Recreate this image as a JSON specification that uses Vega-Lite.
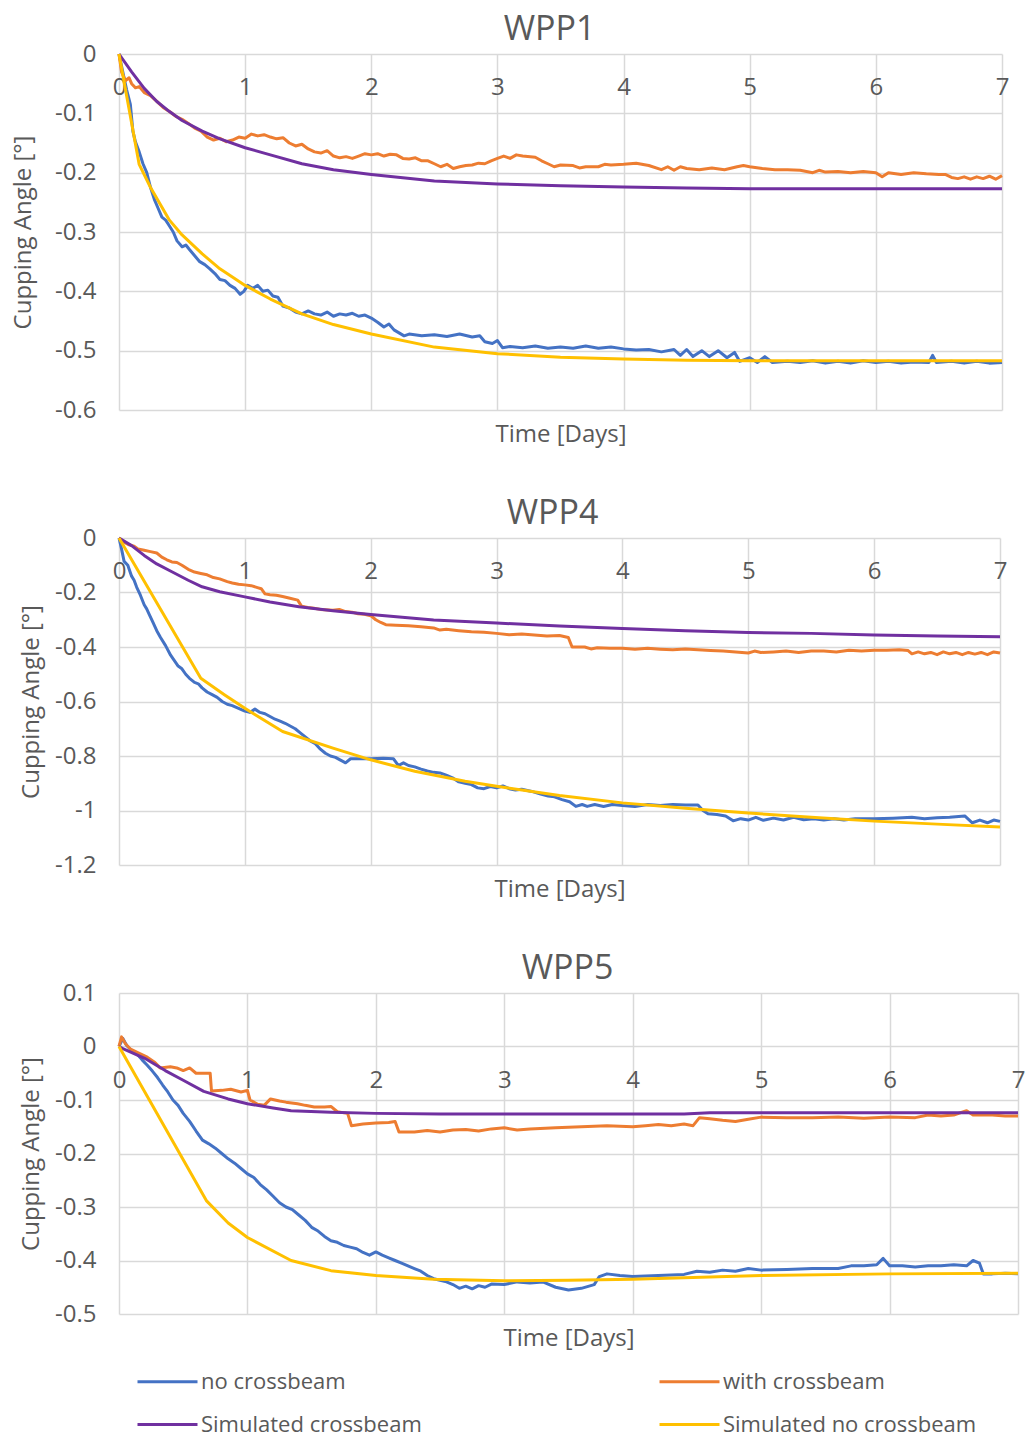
{
"$schema": "https://vega.github.io/schema/vega-lite/v6.json",
"background": "white",
"padding": {"left": 11, "top": 13, "right": 0, "bottom": 0},
"columns": 1,
"align": "none",
"spacing": 51,
"config": {
  "font": "Open Sans",
  "view": {"stroke": null},
  "axis": {"labelFont": "Open Sans", "labelFontSize": 24, "labelColor": "#595959", "titleFont": "Open Sans", "titleFontSize": 24, "titleColor": "#595959", "titleFontWeight": "normal", "gridColor": "#d9d9d9", "gridWidth": 1.5, "domain": false, "ticks": false},
  "title": {"font": "Open Sans", "fontSize": 34, "fontWeight": "normal", "color": "#595959", "anchor": "middle", "frame": "group", "offset": -5},
  "legend": {"orient": "none", "direction": "horizontal", "legendX": 17, "legendY": 1296, "columns": 2, "columnPadding": 231, "rowPadding": -17, "symbolType": "stroke", "symbolSize": 3600, "symbolStrokeWidth": 3, "labelFont": "Open Sans", "labelFontSize": 22, "labelColor": "#595959", "labelOffset": 2, "labelLimit": 400, "padding": 0}
},
"datasets": {"d": [
{"p":"WPP1","s":"no crossbeam","t":0,"v":0},{"p":"WPP1","s":"no crossbeam","t":0.03,"v":-0.03},{"p":"WPP1","s":"no crossbeam","t":0.06,"v":-0.06},{"p":"WPP1","s":"no crossbeam","t":0.09,"v":-0.085},{"p":"WPP1","s":"no crossbeam","t":0.11,"v":-0.13},{"p":"WPP1","s":"no crossbeam","t":0.13,"v":-0.148},{"p":"WPP1","s":"no crossbeam","t":0.16,"v":-0.165},{"p":"WPP1","s":"no crossbeam","t":0.19,"v":-0.185},{"p":"WPP1","s":"no crossbeam","t":0.22,"v":-0.2},{"p":"WPP1","s":"no crossbeam","t":0.25,"v":-0.225},{"p":"WPP1","s":"no crossbeam","t":0.28,"v":-0.245},{"p":"WPP1","s":"no crossbeam","t":0.31,"v":-0.26},{"p":"WPP1","s":"no crossbeam","t":0.34,"v":-0.275},{"p":"WPP1","s":"no crossbeam","t":0.37,"v":-0.28},{"p":"WPP1","s":"no crossbeam","t":0.4,"v":-0.29},{"p":"WPP1","s":"no crossbeam","t":0.43,"v":-0.3},{"p":"WPP1","s":"no crossbeam","t":0.46,"v":-0.315},{"p":"WPP1","s":"no crossbeam","t":0.5,"v":-0.325},{"p":"WPP1","s":"no crossbeam","t":0.53,"v":-0.322},{"p":"WPP1","s":"no crossbeam","t":0.56,"v":-0.33},{"p":"WPP1","s":"no crossbeam","t":0.6,"v":-0.34},{"p":"WPP1","s":"no crossbeam","t":0.64,"v":-0.35},{"p":"WPP1","s":"no crossbeam","t":0.68,"v":-0.355},{"p":"WPP1","s":"no crossbeam","t":0.72,"v":-0.362},{"p":"WPP1","s":"no crossbeam","t":0.76,"v":-0.37},{"p":"WPP1","s":"no crossbeam","t":0.8,"v":-0.38},{"p":"WPP1","s":"no crossbeam","t":0.84,"v":-0.382},{"p":"WPP1","s":"no crossbeam","t":0.88,"v":-0.39},{"p":"WPP1","s":"no crossbeam","t":0.92,"v":-0.395},{"p":"WPP1","s":"no crossbeam","t":0.96,"v":-0.405},{"p":"WPP1","s":"no crossbeam","t":0.99,"v":-0.4},{"p":"WPP1","s":"no crossbeam","t":1.02,"v":-0.39},{"p":"WPP1","s":"no crossbeam","t":1.06,"v":-0.395},{"p":"WPP1","s":"no crossbeam","t":1.1,"v":-0.39},{"p":"WPP1","s":"no crossbeam","t":1.14,"v":-0.4},{"p":"WPP1","s":"no crossbeam","t":1.18,"v":-0.398},{"p":"WPP1","s":"no crossbeam","t":1.22,"v":-0.408},{"p":"WPP1","s":"no crossbeam","t":1.26,"v":-0.41},{"p":"WPP1","s":"no crossbeam","t":1.3,"v":-0.425},{"p":"WPP1","s":"no crossbeam","t":1.35,"v":-0.428},{"p":"WPP1","s":"no crossbeam","t":1.4,"v":-0.435},{"p":"WPP1","s":"no crossbeam","t":1.45,"v":-0.438},{"p":"WPP1","s":"no crossbeam","t":1.5,"v":-0.433},{"p":"WPP1","s":"no crossbeam","t":1.55,"v":-0.438},{"p":"WPP1","s":"no crossbeam","t":1.6,"v":-0.44},{"p":"WPP1","s":"no crossbeam","t":1.65,"v":-0.435},{"p":"WPP1","s":"no crossbeam","t":1.7,"v":-0.442},{"p":"WPP1","s":"no crossbeam","t":1.75,"v":-0.438},{"p":"WPP1","s":"no crossbeam","t":1.8,"v":-0.44},{"p":"WPP1","s":"no crossbeam","t":1.85,"v":-0.437},{"p":"WPP1","s":"no crossbeam","t":1.9,"v":-0.442},{"p":"WPP1","s":"no crossbeam","t":1.95,"v":-0.44},{"p":"WPP1","s":"no crossbeam","t":2.0,"v":-0.445},{"p":"WPP1","s":"no crossbeam","t":2.05,"v":-0.452},{"p":"WPP1","s":"no crossbeam","t":2.1,"v":-0.46},{"p":"WPP1","s":"no crossbeam","t":2.14,"v":-0.455},{"p":"WPP1","s":"no crossbeam","t":2.18,"v":-0.465},{"p":"WPP1","s":"no crossbeam","t":2.22,"v":-0.47},{"p":"WPP1","s":"no crossbeam","t":2.26,"v":-0.475},{"p":"WPP1","s":"no crossbeam","t":2.3,"v":-0.472},{"p":"WPP1","s":"no crossbeam","t":2.4,"v":-0.475},{"p":"WPP1","s":"no crossbeam","t":2.5,"v":-0.473},{"p":"WPP1","s":"no crossbeam","t":2.6,"v":-0.476},{"p":"WPP1","s":"no crossbeam","t":2.7,"v":-0.472},{"p":"WPP1","s":"no crossbeam","t":2.8,"v":-0.477},{"p":"WPP1","s":"no crossbeam","t":2.86,"v":-0.475},{"p":"WPP1","s":"no crossbeam","t":2.9,"v":-0.485},{"p":"WPP1","s":"no crossbeam","t":2.96,"v":-0.488},{"p":"WPP1","s":"no crossbeam","t":3.0,"v":-0.483},{"p":"WPP1","s":"no crossbeam","t":3.04,"v":-0.495},{"p":"WPP1","s":"no crossbeam","t":3.1,"v":-0.493},{"p":"WPP1","s":"no crossbeam","t":3.2,"v":-0.495},{"p":"WPP1","s":"no crossbeam","t":3.3,"v":-0.492},{"p":"WPP1","s":"no crossbeam","t":3.4,"v":-0.496},{"p":"WPP1","s":"no crossbeam","t":3.5,"v":-0.494},{"p":"WPP1","s":"no crossbeam","t":3.6,"v":-0.496},{"p":"WPP1","s":"no crossbeam","t":3.7,"v":-0.492},{"p":"WPP1","s":"no crossbeam","t":3.8,"v":-0.496},{"p":"WPP1","s":"no crossbeam","t":3.9,"v":-0.494},{"p":"WPP1","s":"no crossbeam","t":4.0,"v":-0.497},{"p":"WPP1","s":"no crossbeam","t":4.1,"v":-0.499},{"p":"WPP1","s":"no crossbeam","t":4.2,"v":-0.498},{"p":"WPP1","s":"no crossbeam","t":4.3,"v":-0.502},{"p":"WPP1","s":"no crossbeam","t":4.4,"v":-0.498},{"p":"WPP1","s":"no crossbeam","t":4.45,"v":-0.508},{"p":"WPP1","s":"no crossbeam","t":4.5,"v":-0.498},{"p":"WPP1","s":"no crossbeam","t":4.55,"v":-0.51},{"p":"WPP1","s":"no crossbeam","t":4.62,"v":-0.5},{"p":"WPP1","s":"no crossbeam","t":4.68,"v":-0.51},{"p":"WPP1","s":"no crossbeam","t":4.75,"v":-0.5},{"p":"WPP1","s":"no crossbeam","t":4.82,"v":-0.512},{"p":"WPP1","s":"no crossbeam","t":4.88,"v":-0.503},{"p":"WPP1","s":"no crossbeam","t":4.92,"v":-0.518},{"p":"WPP1","s":"no crossbeam","t":5.0,"v":-0.512},{"p":"WPP1","s":"no crossbeam","t":5.06,"v":-0.52},{"p":"WPP1","s":"no crossbeam","t":5.12,"v":-0.51},{"p":"WPP1","s":"no crossbeam","t":5.18,"v":-0.52},{"p":"WPP1","s":"no crossbeam","t":5.3,"v":-0.518},{"p":"WPP1","s":"no crossbeam","t":5.4,"v":-0.52},{"p":"WPP1","s":"no crossbeam","t":5.5,"v":-0.517},{"p":"WPP1","s":"no crossbeam","t":5.6,"v":-0.521},{"p":"WPP1","s":"no crossbeam","t":5.7,"v":-0.518},{"p":"WPP1","s":"no crossbeam","t":5.8,"v":-0.521},{"p":"WPP1","s":"no crossbeam","t":5.9,"v":-0.517},{"p":"WPP1","s":"no crossbeam","t":6.0,"v":-0.52},{"p":"WPP1","s":"no crossbeam","t":6.1,"v":-0.518},{"p":"WPP1","s":"no crossbeam","t":6.2,"v":-0.521},{"p":"WPP1","s":"no crossbeam","t":6.3,"v":-0.519},{"p":"WPP1","s":"no crossbeam","t":6.42,"v":-0.52},{"p":"WPP1","s":"no crossbeam","t":6.45,"v":-0.508},{"p":"WPP1","s":"no crossbeam","t":6.48,"v":-0.52},{"p":"WPP1","s":"no crossbeam","t":6.6,"v":-0.518},{"p":"WPP1","s":"no crossbeam","t":6.7,"v":-0.521},{"p":"WPP1","s":"no crossbeam","t":6.8,"v":-0.518},{"p":"WPP1","s":"no crossbeam","t":6.9,"v":-0.521},{"p":"WPP1","s":"no crossbeam","t":7.0,"v":-0.52},
{"p":"WPP1","s":"with crossbeam","t":0,"v":0},{"p":"WPP1","s":"with crossbeam","t":0.02,"v":-0.03},{"p":"WPP1","s":"with crossbeam","t":0.05,"v":-0.045},{"p":"WPP1","s":"with crossbeam","t":0.08,"v":-0.04},{"p":"WPP1","s":"with crossbeam","t":0.1,"v":-0.05},{"p":"WPP1","s":"with crossbeam","t":0.13,"v":-0.057},{"p":"WPP1","s":"with crossbeam","t":0.16,"v":-0.055},{"p":"WPP1","s":"with crossbeam","t":0.2,"v":-0.065},{"p":"WPP1","s":"with crossbeam","t":0.25,"v":-0.07},{"p":"WPP1","s":"with crossbeam","t":0.3,"v":-0.08},{"p":"WPP1","s":"with crossbeam","t":0.35,"v":-0.09},{"p":"WPP1","s":"with crossbeam","t":0.4,"v":-0.097},{"p":"WPP1","s":"with crossbeam","t":0.45,"v":-0.105},{"p":"WPP1","s":"with crossbeam","t":0.5,"v":-0.11},{"p":"WPP1","s":"with crossbeam","t":0.55,"v":-0.117},{"p":"WPP1","s":"with crossbeam","t":0.6,"v":-0.125},{"p":"WPP1","s":"with crossbeam","t":0.65,"v":-0.13},{"p":"WPP1","s":"with crossbeam","t":0.7,"v":-0.14},{"p":"WPP1","s":"with crossbeam","t":0.75,"v":-0.145},{"p":"WPP1","s":"with crossbeam","t":0.8,"v":-0.142},{"p":"WPP1","s":"with crossbeam","t":0.85,"v":-0.148},{"p":"WPP1","s":"with crossbeam","t":0.9,"v":-0.145},{"p":"WPP1","s":"with crossbeam","t":0.95,"v":-0.14},{"p":"WPP1","s":"with crossbeam","t":1.0,"v":-0.142},{"p":"WPP1","s":"with crossbeam","t":1.05,"v":-0.135},{"p":"WPP1","s":"with crossbeam","t":1.1,"v":-0.138},{"p":"WPP1","s":"with crossbeam","t":1.15,"v":-0.136},{"p":"WPP1","s":"with crossbeam","t":1.2,"v":-0.14},{"p":"WPP1","s":"with crossbeam","t":1.25,"v":-0.143},{"p":"WPP1","s":"with crossbeam","t":1.3,"v":-0.141},{"p":"WPP1","s":"with crossbeam","t":1.35,"v":-0.15},{"p":"WPP1","s":"with crossbeam","t":1.4,"v":-0.155},{"p":"WPP1","s":"with crossbeam","t":1.45,"v":-0.152},{"p":"WPP1","s":"with crossbeam","t":1.5,"v":-0.16},{"p":"WPP1","s":"with crossbeam","t":1.55,"v":-0.165},{"p":"WPP1","s":"with crossbeam","t":1.6,"v":-0.167},{"p":"WPP1","s":"with crossbeam","t":1.65,"v":-0.163},{"p":"WPP1","s":"with crossbeam","t":1.7,"v":-0.172},{"p":"WPP1","s":"with crossbeam","t":1.75,"v":-0.175},{"p":"WPP1","s":"with crossbeam","t":1.8,"v":-0.173},{"p":"WPP1","s":"with crossbeam","t":1.85,"v":-0.176},{"p":"WPP1","s":"with crossbeam","t":1.9,"v":-0.172},{"p":"WPP1","s":"with crossbeam","t":1.95,"v":-0.168},{"p":"WPP1","s":"with crossbeam","t":2.0,"v":-0.17},{"p":"WPP1","s":"with crossbeam","t":2.05,"v":-0.168},{"p":"WPP1","s":"with crossbeam","t":2.1,"v":-0.172},{"p":"WPP1","s":"with crossbeam","t":2.15,"v":-0.169},{"p":"WPP1","s":"with crossbeam","t":2.2,"v":-0.17},{"p":"WPP1","s":"with crossbeam","t":2.25,"v":-0.176},{"p":"WPP1","s":"with crossbeam","t":2.3,"v":-0.177},{"p":"WPP1","s":"with crossbeam","t":2.35,"v":-0.175},{"p":"WPP1","s":"with crossbeam","t":2.4,"v":-0.18},{"p":"WPP1","s":"with crossbeam","t":2.45,"v":-0.18},{"p":"WPP1","s":"with crossbeam","t":2.5,"v":-0.185},{"p":"WPP1","s":"with crossbeam","t":2.55,"v":-0.19},{"p":"WPP1","s":"with crossbeam","t":2.6,"v":-0.186},{"p":"WPP1","s":"with crossbeam","t":2.65,"v":-0.193},{"p":"WPP1","s":"with crossbeam","t":2.7,"v":-0.19},{"p":"WPP1","s":"with crossbeam","t":2.75,"v":-0.188},{"p":"WPP1","s":"with crossbeam","t":2.8,"v":-0.187},{"p":"WPP1","s":"with crossbeam","t":2.85,"v":-0.184},{"p":"WPP1","s":"with crossbeam","t":2.9,"v":-0.185},{"p":"WPP1","s":"with crossbeam","t":2.95,"v":-0.18},{"p":"WPP1","s":"with crossbeam","t":3.0,"v":-0.176},{"p":"WPP1","s":"with crossbeam","t":3.05,"v":-0.172},{"p":"WPP1","s":"with crossbeam","t":3.1,"v":-0.176},{"p":"WPP1","s":"with crossbeam","t":3.15,"v":-0.17},{"p":"WPP1","s":"with crossbeam","t":3.2,"v":-0.172},{"p":"WPP1","s":"with crossbeam","t":3.3,"v":-0.174},{"p":"WPP1","s":"with crossbeam","t":3.35,"v":-0.18},{"p":"WPP1","s":"with crossbeam","t":3.4,"v":-0.185},{"p":"WPP1","s":"with crossbeam","t":3.45,"v":-0.19},{"p":"WPP1","s":"with crossbeam","t":3.5,"v":-0.187},{"p":"WPP1","s":"with crossbeam","t":3.6,"v":-0.188},{"p":"WPP1","s":"with crossbeam","t":3.65,"v":-0.192},{"p":"WPP1","s":"with crossbeam","t":3.7,"v":-0.19},{"p":"WPP1","s":"with crossbeam","t":3.8,"v":-0.19},{"p":"WPP1","s":"with crossbeam","t":3.85,"v":-0.186},{"p":"WPP1","s":"with crossbeam","t":3.9,"v":-0.187},{"p":"WPP1","s":"with crossbeam","t":4.0,"v":-0.186},{"p":"WPP1","s":"with crossbeam","t":4.1,"v":-0.184},{"p":"WPP1","s":"with crossbeam","t":4.2,"v":-0.188},{"p":"WPP1","s":"with crossbeam","t":4.3,"v":-0.195},{"p":"WPP1","s":"with crossbeam","t":4.35,"v":-0.19},{"p":"WPP1","s":"with crossbeam","t":4.4,"v":-0.196},{"p":"WPP1","s":"with crossbeam","t":4.45,"v":-0.19},{"p":"WPP1","s":"with crossbeam","t":4.5,"v":-0.193},{"p":"WPP1","s":"with crossbeam","t":4.6,"v":-0.195},{"p":"WPP1","s":"with crossbeam","t":4.7,"v":-0.192},{"p":"WPP1","s":"with crossbeam","t":4.8,"v":-0.195},{"p":"WPP1","s":"with crossbeam","t":4.9,"v":-0.19},{"p":"WPP1","s":"with crossbeam","t":4.95,"v":-0.188},{"p":"WPP1","s":"with crossbeam","t":5.0,"v":-0.19},{"p":"WPP1","s":"with crossbeam","t":5.1,"v":-0.193},{"p":"WPP1","s":"with crossbeam","t":5.2,"v":-0.195},{"p":"WPP1","s":"with crossbeam","t":5.3,"v":-0.195},{"p":"WPP1","s":"with crossbeam","t":5.4,"v":-0.196},{"p":"WPP1","s":"with crossbeam","t":5.5,"v":-0.2},{"p":"WPP1","s":"with crossbeam","t":5.55,"v":-0.196},{"p":"WPP1","s":"with crossbeam","t":5.6,"v":-0.199},{"p":"WPP1","s":"with crossbeam","t":5.7,"v":-0.198},{"p":"WPP1","s":"with crossbeam","t":5.8,"v":-0.2},{"p":"WPP1","s":"with crossbeam","t":5.9,"v":-0.198},{"p":"WPP1","s":"with crossbeam","t":6.0,"v":-0.2},{"p":"WPP1","s":"with crossbeam","t":6.05,"v":-0.207},{"p":"WPP1","s":"with crossbeam","t":6.1,"v":-0.2},{"p":"WPP1","s":"with crossbeam","t":6.2,"v":-0.203},{"p":"WPP1","s":"with crossbeam","t":6.3,"v":-0.2},{"p":"WPP1","s":"with crossbeam","t":6.4,"v":-0.202},{"p":"WPP1","s":"with crossbeam","t":6.5,"v":-0.203},{"p":"WPP1","s":"with crossbeam","t":6.55,"v":-0.203},{"p":"WPP1","s":"with crossbeam","t":6.6,"v":-0.208},{"p":"WPP1","s":"with crossbeam","t":6.65,"v":-0.21},{"p":"WPP1","s":"with crossbeam","t":6.7,"v":-0.207},{"p":"WPP1","s":"with crossbeam","t":6.75,"v":-0.211},{"p":"WPP1","s":"with crossbeam","t":6.8,"v":-0.207},{"p":"WPP1","s":"with crossbeam","t":6.85,"v":-0.21},{"p":"WPP1","s":"with crossbeam","t":6.9,"v":-0.206},{"p":"WPP1","s":"with crossbeam","t":6.95,"v":-0.211},{"p":"WPP1","s":"with crossbeam","t":7.0,"v":-0.205},
{"p":"WPP1","s":"Simulated crossbeam","t":0,"v":0},{"p":"WPP1","s":"Simulated crossbeam","t":0.1,"v":-0.03},{"p":"WPP1","s":"Simulated crossbeam","t":0.2,"v":-0.058},{"p":"WPP1","s":"Simulated crossbeam","t":0.3,"v":-0.08},{"p":"WPP1","s":"Simulated crossbeam","t":0.4,"v":-0.097},{"p":"WPP1","s":"Simulated crossbeam","t":0.5,"v":-0.112},{"p":"WPP1","s":"Simulated crossbeam","t":0.66,"v":-0.13},{"p":"WPP1","s":"Simulated crossbeam","t":0.8,"v":-0.143},{"p":"WPP1","s":"Simulated crossbeam","t":1.0,"v":-0.158},{"p":"WPP1","s":"Simulated crossbeam","t":1.2,"v":-0.17},{"p":"WPP1","s":"Simulated crossbeam","t":1.45,"v":-0.185},{"p":"WPP1","s":"Simulated crossbeam","t":1.7,"v":-0.195},{"p":"WPP1","s":"Simulated crossbeam","t":2.0,"v":-0.203},{"p":"WPP1","s":"Simulated crossbeam","t":2.5,"v":-0.214},{"p":"WPP1","s":"Simulated crossbeam","t":3.0,"v":-0.219},{"p":"WPP1","s":"Simulated crossbeam","t":3.5,"v":-0.222},{"p":"WPP1","s":"Simulated crossbeam","t":4.0,"v":-0.224},{"p":"WPP1","s":"Simulated crossbeam","t":4.5,"v":-0.226},{"p":"WPP1","s":"Simulated crossbeam","t":5.0,"v":-0.227},{"p":"WPP1","s":"Simulated crossbeam","t":6.0,"v":-0.227},{"p":"WPP1","s":"Simulated crossbeam","t":7.0,"v":-0.227},
{"p":"WPP1","s":"Simulated no crossbeam","t":0,"v":0},{"p":"WPP1","s":"Simulated no crossbeam","t":0.16,"v":-0.186},{"p":"WPP1","s":"Simulated no crossbeam","t":0.25,"v":-0.225},{"p":"WPP1","s":"Simulated no crossbeam","t":0.4,"v":-0.28},{"p":"WPP1","s":"Simulated no crossbeam","t":0.5,"v":-0.305},{"p":"WPP1","s":"Simulated no crossbeam","t":0.66,"v":-0.337},{"p":"WPP1","s":"Simulated no crossbeam","t":0.8,"v":-0.362},{"p":"WPP1","s":"Simulated no crossbeam","t":1.0,"v":-0.39},{"p":"WPP1","s":"Simulated no crossbeam","t":1.2,"v":-0.413},{"p":"WPP1","s":"Simulated no crossbeam","t":1.45,"v":-0.438},{"p":"WPP1","s":"Simulated no crossbeam","t":1.7,"v":-0.456},{"p":"WPP1","s":"Simulated no crossbeam","t":2.0,"v":-0.472},{"p":"WPP1","s":"Simulated no crossbeam","t":2.5,"v":-0.494},{"p":"WPP1","s":"Simulated no crossbeam","t":3.0,"v":-0.505},{"p":"WPP1","s":"Simulated no crossbeam","t":3.5,"v":-0.511},{"p":"WPP1","s":"Simulated no crossbeam","t":4.0,"v":-0.514},{"p":"WPP1","s":"Simulated no crossbeam","t":4.5,"v":-0.516},{"p":"WPP1","s":"Simulated no crossbeam","t":5.0,"v":-0.517},{"p":"WPP1","s":"Simulated no crossbeam","t":6.0,"v":-0.517},{"p":"WPP1","s":"Simulated no crossbeam","t":7.0,"v":-0.517},
{"p":"WPP4","s":"no crossbeam","t":0,"v":0},{"p":"WPP4","s":"no crossbeam","t":0.02,"v":-0.04},{"p":"WPP4","s":"no crossbeam","t":0.04,"v":-0.085},{"p":"WPP4","s":"no crossbeam","t":0.07,"v":-0.1},{"p":"WPP4","s":"no crossbeam","t":0.1,"v":-0.14},{"p":"WPP4","s":"no crossbeam","t":0.12,"v":-0.155},{"p":"WPP4","s":"no crossbeam","t":0.14,"v":-0.18},{"p":"WPP4","s":"no crossbeam","t":0.17,"v":-0.21},{"p":"WPP4","s":"no crossbeam","t":0.2,"v":-0.245},{"p":"WPP4","s":"no crossbeam","t":0.22,"v":-0.26},{"p":"WPP4","s":"no crossbeam","t":0.24,"v":-0.28},{"p":"WPP4","s":"no crossbeam","t":0.27,"v":-0.31},{"p":"WPP4","s":"no crossbeam","t":0.3,"v":-0.34},{"p":"WPP4","s":"no crossbeam","t":0.33,"v":-0.365},{"p":"WPP4","s":"no crossbeam","t":0.37,"v":-0.395},{"p":"WPP4","s":"no crossbeam","t":0.41,"v":-0.43},{"p":"WPP4","s":"no crossbeam","t":0.44,"v":-0.45},{"p":"WPP4","s":"no crossbeam","t":0.47,"v":-0.47},{"p":"WPP4","s":"no crossbeam","t":0.5,"v":-0.48},{"p":"WPP4","s":"no crossbeam","t":0.53,"v":-0.5},{"p":"WPP4","s":"no crossbeam","t":0.56,"v":-0.515},{"p":"WPP4","s":"no crossbeam","t":0.6,"v":-0.53},{"p":"WPP4","s":"no crossbeam","t":0.63,"v":-0.535},{"p":"WPP4","s":"no crossbeam","t":0.66,"v":-0.55},{"p":"WPP4","s":"no crossbeam","t":0.7,"v":-0.565},{"p":"WPP4","s":"no crossbeam","t":0.74,"v":-0.575},{"p":"WPP4","s":"no crossbeam","t":0.78,"v":-0.585},{"p":"WPP4","s":"no crossbeam","t":0.82,"v":-0.6},{"p":"WPP4","s":"no crossbeam","t":0.86,"v":-0.61},{"p":"WPP4","s":"no crossbeam","t":0.9,"v":-0.615},{"p":"WPP4","s":"no crossbeam","t":0.95,"v":-0.625},{"p":"WPP4","s":"no crossbeam","t":1.0,"v":-0.635},{"p":"WPP4","s":"no crossbeam","t":1.04,"v":-0.64},{"p":"WPP4","s":"no crossbeam","t":1.08,"v":-0.628},{"p":"WPP4","s":"no crossbeam","t":1.12,"v":-0.64},{"p":"WPP4","s":"no crossbeam","t":1.16,"v":-0.645},{"p":"WPP4","s":"no crossbeam","t":1.2,"v":-0.655},{"p":"WPP4","s":"no crossbeam","t":1.24,"v":-0.665},{"p":"WPP4","s":"no crossbeam","t":1.28,"v":-0.672},{"p":"WPP4","s":"no crossbeam","t":1.32,"v":-0.68},{"p":"WPP4","s":"no crossbeam","t":1.36,"v":-0.69},{"p":"WPP4","s":"no crossbeam","t":1.4,"v":-0.7},{"p":"WPP4","s":"no crossbeam","t":1.44,"v":-0.715},{"p":"WPP4","s":"no crossbeam","t":1.48,"v":-0.73},{"p":"WPP4","s":"no crossbeam","t":1.52,"v":-0.745},{"p":"WPP4","s":"no crossbeam","t":1.56,"v":-0.755},{"p":"WPP4","s":"no crossbeam","t":1.6,"v":-0.775},{"p":"WPP4","s":"no crossbeam","t":1.64,"v":-0.79},{"p":"WPP4","s":"no crossbeam","t":1.68,"v":-0.8},{"p":"WPP4","s":"no crossbeam","t":1.72,"v":-0.805},{"p":"WPP4","s":"no crossbeam","t":1.76,"v":-0.815},{"p":"WPP4","s":"no crossbeam","t":1.8,"v":-0.825},{"p":"WPP4","s":"no crossbeam","t":1.84,"v":-0.81},{"p":"WPP4","s":"no crossbeam","t":1.9,"v":-0.81},{"p":"WPP4","s":"no crossbeam","t":2.0,"v":-0.81},{"p":"WPP4","s":"no crossbeam","t":2.1,"v":-0.808},{"p":"WPP4","s":"no crossbeam","t":2.18,"v":-0.81},{"p":"WPP4","s":"no crossbeam","t":2.22,"v":-0.835},{"p":"WPP4","s":"no crossbeam","t":2.26,"v":-0.825},{"p":"WPP4","s":"no crossbeam","t":2.3,"v":-0.835},{"p":"WPP4","s":"no crossbeam","t":2.35,"v":-0.84},{"p":"WPP4","s":"no crossbeam","t":2.4,"v":-0.848},{"p":"WPP4","s":"no crossbeam","t":2.45,"v":-0.855},{"p":"WPP4","s":"no crossbeam","t":2.5,"v":-0.86},{"p":"WPP4","s":"no crossbeam","t":2.55,"v":-0.862},{"p":"WPP4","s":"no crossbeam","t":2.6,"v":-0.87},{"p":"WPP4","s":"no crossbeam","t":2.65,"v":-0.88},{"p":"WPP4","s":"no crossbeam","t":2.7,"v":-0.895},{"p":"WPP4","s":"no crossbeam","t":2.75,"v":-0.9},{"p":"WPP4","s":"no crossbeam","t":2.8,"v":-0.905},{"p":"WPP4","s":"no crossbeam","t":2.85,"v":-0.917},{"p":"WPP4","s":"no crossbeam","t":2.9,"v":-0.92},{"p":"WPP4","s":"no crossbeam","t":2.95,"v":-0.912},{"p":"WPP4","s":"no crossbeam","t":3.0,"v":-0.917},{"p":"WPP4","s":"no crossbeam","t":3.05,"v":-0.91},{"p":"WPP4","s":"no crossbeam","t":3.1,"v":-0.92},{"p":"WPP4","s":"no crossbeam","t":3.15,"v":-0.925},{"p":"WPP4","s":"no crossbeam","t":3.2,"v":-0.922},{"p":"WPP4","s":"no crossbeam","t":3.28,"v":-0.93},{"p":"WPP4","s":"no crossbeam","t":3.35,"v":-0.94},{"p":"WPP4","s":"no crossbeam","t":3.41,"v":-0.947},{"p":"WPP4","s":"no crossbeam","t":3.46,"v":-0.95},{"p":"WPP4","s":"no crossbeam","t":3.52,"v":-0.96},{"p":"WPP4","s":"no crossbeam","t":3.58,"v":-0.968},{"p":"WPP4","s":"no crossbeam","t":3.63,"v":-0.985},{"p":"WPP4","s":"no crossbeam","t":3.68,"v":-0.978},{"p":"WPP4","s":"no crossbeam","t":3.72,"v":-0.985},{"p":"WPP4","s":"no crossbeam","t":3.78,"v":-0.978},{"p":"WPP4","s":"no crossbeam","t":3.85,"v":-0.985},{"p":"WPP4","s":"no crossbeam","t":3.92,"v":-0.978},{"p":"WPP4","s":"no crossbeam","t":4.0,"v":-0.982},{"p":"WPP4","s":"no crossbeam","t":4.1,"v":-0.985},{"p":"WPP4","s":"no crossbeam","t":4.2,"v":-0.978},{"p":"WPP4","s":"no crossbeam","t":4.3,"v":-0.982},{"p":"WPP4","s":"no crossbeam","t":4.4,"v":-0.978},{"p":"WPP4","s":"no crossbeam","t":4.5,"v":-0.98},{"p":"WPP4","s":"no crossbeam","t":4.6,"v":-0.98},{"p":"WPP4","s":"no crossbeam","t":4.64,"v":-1.0},{"p":"WPP4","s":"no crossbeam","t":4.68,"v":-1.012},{"p":"WPP4","s":"no crossbeam","t":4.75,"v":-1.015},{"p":"WPP4","s":"no crossbeam","t":4.82,"v":-1.02},{"p":"WPP4","s":"no crossbeam","t":4.88,"v":-1.038},{"p":"WPP4","s":"no crossbeam","t":4.94,"v":-1.03},{"p":"WPP4","s":"no crossbeam","t":5.0,"v":-1.035},{"p":"WPP4","s":"no crossbeam","t":5.06,"v":-1.025},{"p":"WPP4","s":"no crossbeam","t":5.12,"v":-1.036},{"p":"WPP4","s":"no crossbeam","t":5.2,"v":-1.028},{"p":"WPP4","s":"no crossbeam","t":5.28,"v":-1.035},{"p":"WPP4","s":"no crossbeam","t":5.36,"v":-1.025},{"p":"WPP4","s":"no crossbeam","t":5.44,"v":-1.034},{"p":"WPP4","s":"no crossbeam","t":5.52,"v":-1.03},{"p":"WPP4","s":"no crossbeam","t":5.6,"v":-1.035},{"p":"WPP4","s":"no crossbeam","t":5.68,"v":-1.03},{"p":"WPP4","s":"no crossbeam","t":5.76,"v":-1.035},{"p":"WPP4","s":"no crossbeam","t":5.85,"v":-1.03},{"p":"WPP4","s":"no crossbeam","t":6.0,"v":-1.03},{"p":"WPP4","s":"no crossbeam","t":6.15,"v":-1.028},{"p":"WPP4","s":"no crossbeam","t":6.3,"v":-1.025},{"p":"WPP4","s":"no crossbeam","t":6.4,"v":-1.03},{"p":"WPP4","s":"no crossbeam","t":6.5,"v":-1.027},{"p":"WPP4","s":"no crossbeam","t":6.6,"v":-1.025},{"p":"WPP4","s":"no crossbeam","t":6.72,"v":-1.02},{"p":"WPP4","s":"no crossbeam","t":6.78,"v":-1.045},{"p":"WPP4","s":"no crossbeam","t":6.84,"v":-1.035},{"p":"WPP4","s":"no crossbeam","t":6.9,"v":-1.045},{"p":"WPP4","s":"no crossbeam","t":6.95,"v":-1.035},{"p":"WPP4","s":"no crossbeam","t":7.0,"v":-1.04},
{"p":"WPP4","s":"with crossbeam","t":0,"v":0},{"p":"WPP4","s":"with crossbeam","t":0.04,"v":-0.015},{"p":"WPP4","s":"with crossbeam","t":0.08,"v":-0.025},{"p":"WPP4","s":"with crossbeam","t":0.12,"v":-0.03},{"p":"WPP4","s":"with crossbeam","t":0.15,"v":-0.04},{"p":"WPP4","s":"with crossbeam","t":0.2,"v":-0.045},{"p":"WPP4","s":"with crossbeam","t":0.25,"v":-0.05},{"p":"WPP4","s":"with crossbeam","t":0.3,"v":-0.055},{"p":"WPP4","s":"with crossbeam","t":0.34,"v":-0.07},{"p":"WPP4","s":"with crossbeam","t":0.38,"v":-0.08},{"p":"WPP4","s":"with crossbeam","t":0.42,"v":-0.088},{"p":"WPP4","s":"with crossbeam","t":0.46,"v":-0.09},{"p":"WPP4","s":"with crossbeam","t":0.5,"v":-0.1},{"p":"WPP4","s":"with crossbeam","t":0.55,"v":-0.115},{"p":"WPP4","s":"with crossbeam","t":0.6,"v":-0.125},{"p":"WPP4","s":"with crossbeam","t":0.65,"v":-0.13},{"p":"WPP4","s":"with crossbeam","t":0.7,"v":-0.135},{"p":"WPP4","s":"with crossbeam","t":0.75,"v":-0.145},{"p":"WPP4","s":"with crossbeam","t":0.8,"v":-0.15},{"p":"WPP4","s":"with crossbeam","t":0.86,"v":-0.16},{"p":"WPP4","s":"with crossbeam","t":0.9,"v":-0.165},{"p":"WPP4","s":"with crossbeam","t":0.95,"v":-0.17},{"p":"WPP4","s":"with crossbeam","t":1.0,"v":-0.172},{"p":"WPP4","s":"with crossbeam","t":1.05,"v":-0.175},{"p":"WPP4","s":"with crossbeam","t":1.1,"v":-0.182},{"p":"WPP4","s":"with crossbeam","t":1.13,"v":-0.186},{"p":"WPP4","s":"with crossbeam","t":1.16,"v":-0.205},{"p":"WPP4","s":"with crossbeam","t":1.2,"v":-0.208},{"p":"WPP4","s":"with crossbeam","t":1.25,"v":-0.21},{"p":"WPP4","s":"with crossbeam","t":1.3,"v":-0.215},{"p":"WPP4","s":"with crossbeam","t":1.35,"v":-0.22},{"p":"WPP4","s":"with crossbeam","t":1.42,"v":-0.228},{"p":"WPP4","s":"with crossbeam","t":1.45,"v":-0.25},{"p":"WPP4","s":"with crossbeam","t":1.5,"v":-0.255},{"p":"WPP4","s":"with crossbeam","t":1.55,"v":-0.258},{"p":"WPP4","s":"with crossbeam","t":1.6,"v":-0.262},{"p":"WPP4","s":"with crossbeam","t":1.7,"v":-0.265},{"p":"WPP4","s":"with crossbeam","t":1.75,"v":-0.262},{"p":"WPP4","s":"with crossbeam","t":1.8,"v":-0.27},{"p":"WPP4","s":"with crossbeam","t":1.85,"v":-0.272},{"p":"WPP4","s":"with crossbeam","t":1.9,"v":-0.278},{"p":"WPP4","s":"with crossbeam","t":1.95,"v":-0.28},{"p":"WPP4","s":"with crossbeam","t":2.0,"v":-0.285},{"p":"WPP4","s":"with crossbeam","t":2.04,"v":-0.3},{"p":"WPP4","s":"with crossbeam","t":2.08,"v":-0.31},{"p":"WPP4","s":"with crossbeam","t":2.12,"v":-0.318},{"p":"WPP4","s":"with crossbeam","t":2.2,"v":-0.32},{"p":"WPP4","s":"with crossbeam","t":2.3,"v":-0.322},{"p":"WPP4","s":"with crossbeam","t":2.4,"v":-0.326},{"p":"WPP4","s":"with crossbeam","t":2.5,"v":-0.33},{"p":"WPP4","s":"with crossbeam","t":2.55,"v":-0.338},{"p":"WPP4","s":"with crossbeam","t":2.6,"v":-0.335},{"p":"WPP4","s":"with crossbeam","t":2.7,"v":-0.34},{"p":"WPP4","s":"with crossbeam","t":2.8,"v":-0.344},{"p":"WPP4","s":"with crossbeam","t":2.9,"v":-0.346},{"p":"WPP4","s":"with crossbeam","t":3.0,"v":-0.35},{"p":"WPP4","s":"with crossbeam","t":3.1,"v":-0.355},{"p":"WPP4","s":"with crossbeam","t":3.2,"v":-0.352},{"p":"WPP4","s":"with crossbeam","t":3.3,"v":-0.356},{"p":"WPP4","s":"with crossbeam","t":3.4,"v":-0.36},{"p":"WPP4","s":"with crossbeam","t":3.5,"v":-0.358},{"p":"WPP4","s":"with crossbeam","t":3.57,"v":-0.365},{"p":"WPP4","s":"with crossbeam","t":3.6,"v":-0.4},{"p":"WPP4","s":"with crossbeam","t":3.7,"v":-0.4},{"p":"WPP4","s":"with crossbeam","t":3.75,"v":-0.407},{"p":"WPP4","s":"with crossbeam","t":3.8,"v":-0.403},{"p":"WPP4","s":"with crossbeam","t":3.9,"v":-0.405},{"p":"WPP4","s":"with crossbeam","t":4.0,"v":-0.405},{"p":"WPP4","s":"with crossbeam","t":4.1,"v":-0.408},{"p":"WPP4","s":"with crossbeam","t":4.2,"v":-0.405},{"p":"WPP4","s":"with crossbeam","t":4.3,"v":-0.408},{"p":"WPP4","s":"with crossbeam","t":4.4,"v":-0.41},{"p":"WPP4","s":"with crossbeam","t":4.5,"v":-0.407},{"p":"WPP4","s":"with crossbeam","t":4.6,"v":-0.41},{"p":"WPP4","s":"with crossbeam","t":4.7,"v":-0.413},{"p":"WPP4","s":"with crossbeam","t":4.8,"v":-0.415},{"p":"WPP4","s":"with crossbeam","t":4.9,"v":-0.418},{"p":"WPP4","s":"with crossbeam","t":5.0,"v":-0.422},{"p":"WPP4","s":"with crossbeam","t":5.05,"v":-0.415},{"p":"WPP4","s":"with crossbeam","t":5.1,"v":-0.42},{"p":"WPP4","s":"with crossbeam","t":5.2,"v":-0.418},{"p":"WPP4","s":"with crossbeam","t":5.3,"v":-0.415},{"p":"WPP4","s":"with crossbeam","t":5.4,"v":-0.42},{"p":"WPP4","s":"with crossbeam","t":5.5,"v":-0.415},{"p":"WPP4","s":"with crossbeam","t":5.6,"v":-0.415},{"p":"WPP4","s":"with crossbeam","t":5.7,"v":-0.418},{"p":"WPP4","s":"with crossbeam","t":5.8,"v":-0.412},{"p":"WPP4","s":"with crossbeam","t":5.9,"v":-0.415},{"p":"WPP4","s":"with crossbeam","t":6.0,"v":-0.412},{"p":"WPP4","s":"with crossbeam","t":6.1,"v":-0.412},{"p":"WPP4","s":"with crossbeam","t":6.2,"v":-0.41},{"p":"WPP4","s":"with crossbeam","t":6.27,"v":-0.413},{"p":"WPP4","s":"with crossbeam","t":6.3,"v":-0.425},{"p":"WPP4","s":"with crossbeam","t":6.35,"v":-0.418},{"p":"WPP4","s":"with crossbeam","t":6.4,"v":-0.425},{"p":"WPP4","s":"with crossbeam","t":6.45,"v":-0.42},{"p":"WPP4","s":"with crossbeam","t":6.5,"v":-0.428},{"p":"WPP4","s":"with crossbeam","t":6.55,"v":-0.418},{"p":"WPP4","s":"with crossbeam","t":6.6,"v":-0.425},{"p":"WPP4","s":"with crossbeam","t":6.65,"v":-0.42},{"p":"WPP4","s":"with crossbeam","t":6.7,"v":-0.428},{"p":"WPP4","s":"with crossbeam","t":6.75,"v":-0.42},{"p":"WPP4","s":"with crossbeam","t":6.8,"v":-0.426},{"p":"WPP4","s":"with crossbeam","t":6.85,"v":-0.42},{"p":"WPP4","s":"with crossbeam","t":6.9,"v":-0.428},{"p":"WPP4","s":"with crossbeam","t":6.95,"v":-0.418},{"p":"WPP4","s":"with crossbeam","t":7.0,"v":-0.422},
{"p":"WPP4","s":"Simulated crossbeam","t":0,"v":0},{"p":"WPP4","s":"Simulated crossbeam","t":0.1,"v":-0.028},{"p":"WPP4","s":"Simulated crossbeam","t":0.2,"v":-0.064},{"p":"WPP4","s":"Simulated crossbeam","t":0.3,"v":-0.095},{"p":"WPP4","s":"Simulated crossbeam","t":0.42,"v":-0.124},{"p":"WPP4","s":"Simulated crossbeam","t":0.55,"v":-0.155},{"p":"WPP4","s":"Simulated crossbeam","t":0.66,"v":-0.179},{"p":"WPP4","s":"Simulated crossbeam","t":0.8,"v":-0.197},{"p":"WPP4","s":"Simulated crossbeam","t":1.0,"v":-0.216},{"p":"WPP4","s":"Simulated crossbeam","t":1.2,"v":-0.235},{"p":"WPP4","s":"Simulated crossbeam","t":1.43,"v":-0.252},{"p":"WPP4","s":"Simulated crossbeam","t":1.7,"v":-0.267},{"p":"WPP4","s":"Simulated crossbeam","t":2.0,"v":-0.281},{"p":"WPP4","s":"Simulated crossbeam","t":2.5,"v":-0.301},{"p":"WPP4","s":"Simulated crossbeam","t":3.0,"v":-0.312},{"p":"WPP4","s":"Simulated crossbeam","t":3.5,"v":-0.323},{"p":"WPP4","s":"Simulated crossbeam","t":4.0,"v":-0.332},{"p":"WPP4","s":"Simulated crossbeam","t":4.5,"v":-0.34},{"p":"WPP4","s":"Simulated crossbeam","t":5.0,"v":-0.347},{"p":"WPP4","s":"Simulated crossbeam","t":5.5,"v":-0.35},{"p":"WPP4","s":"Simulated crossbeam","t":6.0,"v":-0.356},{"p":"WPP4","s":"Simulated crossbeam","t":6.5,"v":-0.36},{"p":"WPP4","s":"Simulated crossbeam","t":7.0,"v":-0.362},
{"p":"WPP4","s":"Simulated no crossbeam","t":0,"v":0},{"p":"WPP4","s":"Simulated no crossbeam","t":0.65,"v":-0.515},{"p":"WPP4","s":"Simulated no crossbeam","t":0.84,"v":-0.576},{"p":"WPP4","s":"Simulated no crossbeam","t":1.0,"v":-0.625},{"p":"WPP4","s":"Simulated no crossbeam","t":1.3,"v":-0.71},{"p":"WPP4","s":"Simulated no crossbeam","t":1.7,"v":-0.771},{"p":"WPP4","s":"Simulated no crossbeam","t":2.0,"v":-0.814},{"p":"WPP4","s":"Simulated no crossbeam","t":2.35,"v":-0.856},{"p":"WPP4","s":"Simulated no crossbeam","t":2.75,"v":-0.893},{"p":"WPP4","s":"Simulated no crossbeam","t":3.0,"v":-0.911},{"p":"WPP4","s":"Simulated no crossbeam","t":3.5,"v":-0.945},{"p":"WPP4","s":"Simulated no crossbeam","t":4.0,"v":-0.972},{"p":"WPP4","s":"Simulated no crossbeam","t":4.5,"v":-0.992},{"p":"WPP4","s":"Simulated no crossbeam","t":5.0,"v":-1.009},{"p":"WPP4","s":"Simulated no crossbeam","t":5.5,"v":-1.025},{"p":"WPP4","s":"Simulated no crossbeam","t":6.0,"v":-1.039},{"p":"WPP4","s":"Simulated no crossbeam","t":6.5,"v":-1.05},{"p":"WPP4","s":"Simulated no crossbeam","t":7.0,"v":-1.061},
{"p":"WPP5","s":"no crossbeam","t":0,"v":0},{"p":"WPP5","s":"no crossbeam","t":0.03,"v":0.015},{"p":"WPP5","s":"no crossbeam","t":0.06,"v":0.002},{"p":"WPP5","s":"no crossbeam","t":0.1,"v":-0.008},{"p":"WPP5","s":"no crossbeam","t":0.14,"v":-0.014},{"p":"WPP5","s":"no crossbeam","t":0.18,"v":-0.025},{"p":"WPP5","s":"no crossbeam","t":0.22,"v":-0.035},{"p":"WPP5","s":"no crossbeam","t":0.26,"v":-0.046},{"p":"WPP5","s":"no crossbeam","t":0.3,"v":-0.058},{"p":"WPP5","s":"no crossbeam","t":0.34,"v":-0.072},{"p":"WPP5","s":"no crossbeam","t":0.38,"v":-0.085},{"p":"WPP5","s":"no crossbeam","t":0.42,"v":-0.1},{"p":"WPP5","s":"no crossbeam","t":0.46,"v":-0.11},{"p":"WPP5","s":"no crossbeam","t":0.5,"v":-0.125},{"p":"WPP5","s":"no crossbeam","t":0.55,"v":-0.14},{"p":"WPP5","s":"no crossbeam","t":0.6,"v":-0.158},{"p":"WPP5","s":"no crossbeam","t":0.65,"v":-0.175},{"p":"WPP5","s":"no crossbeam","t":0.7,"v":-0.182},{"p":"WPP5","s":"no crossbeam","t":0.75,"v":-0.19},{"p":"WPP5","s":"no crossbeam","t":0.8,"v":-0.2},{"p":"WPP5","s":"no crossbeam","t":0.85,"v":-0.21},{"p":"WPP5","s":"no crossbeam","t":0.9,"v":-0.218},{"p":"WPP5","s":"no crossbeam","t":0.95,"v":-0.228},{"p":"WPP5","s":"no crossbeam","t":1.0,"v":-0.238},{"p":"WPP5","s":"no crossbeam","t":1.05,"v":-0.245},{"p":"WPP5","s":"no crossbeam","t":1.1,"v":-0.258},{"p":"WPP5","s":"no crossbeam","t":1.15,"v":-0.268},{"p":"WPP5","s":"no crossbeam","t":1.2,"v":-0.28},{"p":"WPP5","s":"no crossbeam","t":1.25,"v":-0.292},{"p":"WPP5","s":"no crossbeam","t":1.3,"v":-0.3},{"p":"WPP5","s":"no crossbeam","t":1.35,"v":-0.305},{"p":"WPP5","s":"no crossbeam","t":1.4,"v":-0.315},{"p":"WPP5","s":"no crossbeam","t":1.45,"v":-0.325},{"p":"WPP5","s":"no crossbeam","t":1.5,"v":-0.338},{"p":"WPP5","s":"no crossbeam","t":1.55,"v":-0.345},{"p":"WPP5","s":"no crossbeam","t":1.6,"v":-0.355},{"p":"WPP5","s":"no crossbeam","t":1.65,"v":-0.363},{"p":"WPP5","s":"no crossbeam","t":1.7,"v":-0.366},{"p":"WPP5","s":"no crossbeam","t":1.75,"v":-0.372},{"p":"WPP5","s":"no crossbeam","t":1.8,"v":-0.375},{"p":"WPP5","s":"no crossbeam","t":1.85,"v":-0.378},{"p":"WPP5","s":"no crossbeam","t":1.9,"v":-0.385},{"p":"WPP5","s":"no crossbeam","t":1.95,"v":-0.39},{"p":"WPP5","s":"no crossbeam","t":2.0,"v":-0.384},{"p":"WPP5","s":"no crossbeam","t":2.05,"v":-0.39},{"p":"WPP5","s":"no crossbeam","t":2.1,"v":-0.395},{"p":"WPP5","s":"no crossbeam","t":2.15,"v":-0.4},{"p":"WPP5","s":"no crossbeam","t":2.2,"v":-0.405},{"p":"WPP5","s":"no crossbeam","t":2.25,"v":-0.41},{"p":"WPP5","s":"no crossbeam","t":2.3,"v":-0.415},{"p":"WPP5","s":"no crossbeam","t":2.35,"v":-0.42},{"p":"WPP5","s":"no crossbeam","t":2.4,"v":-0.428},{"p":"WPP5","s":"no crossbeam","t":2.45,"v":-0.434},{"p":"WPP5","s":"no crossbeam","t":2.5,"v":-0.437},{"p":"WPP5","s":"no crossbeam","t":2.55,"v":-0.44},{"p":"WPP5","s":"no crossbeam","t":2.6,"v":-0.445},{"p":"WPP5","s":"no crossbeam","t":2.65,"v":-0.452},{"p":"WPP5","s":"no crossbeam","t":2.7,"v":-0.448},{"p":"WPP5","s":"no crossbeam","t":2.75,"v":-0.453},{"p":"WPP5","s":"no crossbeam","t":2.8,"v":-0.447},{"p":"WPP5","s":"no crossbeam","t":2.85,"v":-0.45},{"p":"WPP5","s":"no crossbeam","t":2.9,"v":-0.444},{"p":"WPP5","s":"no crossbeam","t":3.0,"v":-0.445},{"p":"WPP5","s":"no crossbeam","t":3.1,"v":-0.44},{"p":"WPP5","s":"no crossbeam","t":3.2,"v":-0.442},{"p":"WPP5","s":"no crossbeam","t":3.3,"v":-0.44},{"p":"WPP5","s":"no crossbeam","t":3.4,"v":-0.45},{"p":"WPP5","s":"no crossbeam","t":3.5,"v":-0.455},{"p":"WPP5","s":"no crossbeam","t":3.6,"v":-0.452},{"p":"WPP5","s":"no crossbeam","t":3.7,"v":-0.445},{"p":"WPP5","s":"no crossbeam","t":3.74,"v":-0.43},{"p":"WPP5","s":"no crossbeam","t":3.8,"v":-0.425},{"p":"WPP5","s":"no crossbeam","t":3.9,"v":-0.428},{"p":"WPP5","s":"no crossbeam","t":4.0,"v":-0.43},{"p":"WPP5","s":"no crossbeam","t":4.2,"v":-0.428},{"p":"WPP5","s":"no crossbeam","t":4.4,"v":-0.426},{"p":"WPP5","s":"no crossbeam","t":4.5,"v":-0.42},{"p":"WPP5","s":"no crossbeam","t":4.6,"v":-0.422},{"p":"WPP5","s":"no crossbeam","t":4.7,"v":-0.418},{"p":"WPP5","s":"no crossbeam","t":4.8,"v":-0.42},{"p":"WPP5","s":"no crossbeam","t":4.9,"v":-0.415},{"p":"WPP5","s":"no crossbeam","t":5.0,"v":-0.418},{"p":"WPP5","s":"no crossbeam","t":5.2,"v":-0.417},{"p":"WPP5","s":"no crossbeam","t":5.4,"v":-0.415},{"p":"WPP5","s":"no crossbeam","t":5.6,"v":-0.415},{"p":"WPP5","s":"no crossbeam","t":5.7,"v":-0.41},{"p":"WPP5","s":"no crossbeam","t":5.8,"v":-0.41},{"p":"WPP5","s":"no crossbeam","t":5.9,"v":-0.408},{"p":"WPP5","s":"no crossbeam","t":5.95,"v":-0.396},{"p":"WPP5","s":"no crossbeam","t":6.0,"v":-0.41},{"p":"WPP5","s":"no crossbeam","t":6.1,"v":-0.41},{"p":"WPP5","s":"no crossbeam","t":6.2,"v":-0.412},{"p":"WPP5","s":"no crossbeam","t":6.3,"v":-0.41},{"p":"WPP5","s":"no crossbeam","t":6.4,"v":-0.41},{"p":"WPP5","s":"no crossbeam","t":6.5,"v":-0.408},{"p":"WPP5","s":"no crossbeam","t":6.6,"v":-0.41},{"p":"WPP5","s":"no crossbeam","t":6.65,"v":-0.4},{"p":"WPP5","s":"no crossbeam","t":6.7,"v":-0.405},{"p":"WPP5","s":"no crossbeam","t":6.73,"v":-0.425},{"p":"WPP5","s":"no crossbeam","t":6.8,"v":-0.425},{"p":"WPP5","s":"no crossbeam","t":6.9,"v":-0.424},{"p":"WPP5","s":"no crossbeam","t":7.0,"v":-0.425},
{"p":"WPP5","s":"with crossbeam","t":0,"v":0},{"p":"WPP5","s":"with crossbeam","t":0.02,"v":0.018},{"p":"WPP5","s":"with crossbeam","t":0.05,"v":0.005},{"p":"WPP5","s":"with crossbeam","t":0.09,"v":-0.005},{"p":"WPP5","s":"with crossbeam","t":0.15,"v":-0.012},{"p":"WPP5","s":"with crossbeam","t":0.22,"v":-0.02},{"p":"WPP5","s":"with crossbeam","t":0.28,"v":-0.03},{"p":"WPP5","s":"with crossbeam","t":0.32,"v":-0.04},{"p":"WPP5","s":"with crossbeam","t":0.4,"v":-0.038},{"p":"WPP5","s":"with crossbeam","t":0.45,"v":-0.04},{"p":"WPP5","s":"with crossbeam","t":0.5,"v":-0.045},{"p":"WPP5","s":"with crossbeam","t":0.55,"v":-0.04},{"p":"WPP5","s":"with crossbeam","t":0.6,"v":-0.05},{"p":"WPP5","s":"with crossbeam","t":0.65,"v":-0.05},{"p":"WPP5","s":"with crossbeam","t":0.71,"v":-0.05},{"p":"WPP5","s":"with crossbeam","t":0.72,"v":-0.083},{"p":"WPP5","s":"with crossbeam","t":0.8,"v":-0.082},{"p":"WPP5","s":"with crossbeam","t":0.87,"v":-0.08},{"p":"WPP5","s":"with crossbeam","t":0.95,"v":-0.085},{"p":"WPP5","s":"with crossbeam","t":1.0,"v":-0.082},{"p":"WPP5","s":"with crossbeam","t":1.02,"v":-0.1},{"p":"WPP5","s":"with crossbeam","t":1.08,"v":-0.108},{"p":"WPP5","s":"with crossbeam","t":1.13,"v":-0.11},{"p":"WPP5","s":"with crossbeam","t":1.18,"v":-0.098},{"p":"WPP5","s":"with crossbeam","t":1.25,"v":-0.102},{"p":"WPP5","s":"with crossbeam","t":1.3,"v":-0.104},{"p":"WPP5","s":"with crossbeam","t":1.39,"v":-0.107},{"p":"WPP5","s":"with crossbeam","t":1.45,"v":-0.11},{"p":"WPP5","s":"with crossbeam","t":1.52,"v":-0.113},{"p":"WPP5","s":"with crossbeam","t":1.6,"v":-0.113},{"p":"WPP5","s":"with crossbeam","t":1.65,"v":-0.112},{"p":"WPP5","s":"with crossbeam","t":1.7,"v":-0.122},{"p":"WPP5","s":"with crossbeam","t":1.78,"v":-0.125},{"p":"WPP5","s":"with crossbeam","t":1.81,"v":-0.148},{"p":"WPP5","s":"with crossbeam","t":1.9,"v":-0.145},{"p":"WPP5","s":"with crossbeam","t":2.0,"v":-0.143},{"p":"WPP5","s":"with crossbeam","t":2.1,"v":-0.142},{"p":"WPP5","s":"with crossbeam","t":2.15,"v":-0.14},{"p":"WPP5","s":"with crossbeam","t":2.18,"v":-0.16},{"p":"WPP5","s":"with crossbeam","t":2.3,"v":-0.16},{"p":"WPP5","s":"with crossbeam","t":2.4,"v":-0.157},{"p":"WPP5","s":"with crossbeam","t":2.5,"v":-0.16},{"p":"WPP5","s":"with crossbeam","t":2.6,"v":-0.156},{"p":"WPP5","s":"with crossbeam","t":2.7,"v":-0.155},{"p":"WPP5","s":"with crossbeam","t":2.8,"v":-0.158},{"p":"WPP5","s":"with crossbeam","t":2.9,"v":-0.154},{"p":"WPP5","s":"with crossbeam","t":3.0,"v":-0.152},{"p":"WPP5","s":"with crossbeam","t":3.1,"v":-0.156},{"p":"WPP5","s":"with crossbeam","t":3.2,"v":-0.154},{"p":"WPP5","s":"with crossbeam","t":3.4,"v":-0.152},{"p":"WPP5","s":"with crossbeam","t":3.6,"v":-0.15},{"p":"WPP5","s":"with crossbeam","t":3.8,"v":-0.148},{"p":"WPP5","s":"with crossbeam","t":4.0,"v":-0.15},{"p":"WPP5","s":"with crossbeam","t":4.1,"v":-0.148},{"p":"WPP5","s":"with crossbeam","t":4.2,"v":-0.146},{"p":"WPP5","s":"with crossbeam","t":4.3,"v":-0.148},{"p":"WPP5","s":"with crossbeam","t":4.4,"v":-0.145},{"p":"WPP5","s":"with crossbeam","t":4.47,"v":-0.148},{"p":"WPP5","s":"with crossbeam","t":4.52,"v":-0.133},{"p":"WPP5","s":"with crossbeam","t":4.6,"v":-0.135},{"p":"WPP5","s":"with crossbeam","t":4.7,"v":-0.138},{"p":"WPP5","s":"with crossbeam","t":4.8,"v":-0.14},{"p":"WPP5","s":"with crossbeam","t":4.9,"v":-0.136},{"p":"WPP5","s":"with crossbeam","t":5.0,"v":-0.132},{"p":"WPP5","s":"with crossbeam","t":5.2,"v":-0.133},{"p":"WPP5","s":"with crossbeam","t":5.4,"v":-0.133},{"p":"WPP5","s":"with crossbeam","t":5.6,"v":-0.132},{"p":"WPP5","s":"with crossbeam","t":5.8,"v":-0.134},{"p":"WPP5","s":"with crossbeam","t":6.0,"v":-0.132},{"p":"WPP5","s":"with crossbeam","t":6.2,"v":-0.133},{"p":"WPP5","s":"with crossbeam","t":6.3,"v":-0.128},{"p":"WPP5","s":"with crossbeam","t":6.4,"v":-0.13},{"p":"WPP5","s":"with crossbeam","t":6.5,"v":-0.128},{"p":"WPP5","s":"with crossbeam","t":6.6,"v":-0.12},{"p":"WPP5","s":"with crossbeam","t":6.65,"v":-0.128},{"p":"WPP5","s":"with crossbeam","t":6.8,"v":-0.128},{"p":"WPP5","s":"with crossbeam","t":6.9,"v":-0.13},{"p":"WPP5","s":"with crossbeam","t":7.0,"v":-0.13},
{"p":"WPP5","s":"Simulated crossbeam","t":0,"v":0},{"p":"WPP5","s":"Simulated crossbeam","t":0.03,"v":-0.004},{"p":"WPP5","s":"Simulated crossbeam","t":0.2,"v":-0.022},{"p":"WPP5","s":"Simulated crossbeam","t":0.36,"v":-0.045},{"p":"WPP5","s":"Simulated crossbeam","t":0.5,"v":-0.063},{"p":"WPP5","s":"Simulated crossbeam","t":0.66,"v":-0.084},{"p":"WPP5","s":"Simulated crossbeam","t":0.85,"v":-0.098},{"p":"WPP5","s":"Simulated crossbeam","t":1.0,"v":-0.107},{"p":"WPP5","s":"Simulated crossbeam","t":1.2,"v":-0.115},{"p":"WPP5","s":"Simulated crossbeam","t":1.34,"v":-0.12},{"p":"WPP5","s":"Simulated crossbeam","t":1.65,"v":-0.123},{"p":"WPP5","s":"Simulated crossbeam","t":2.0,"v":-0.125},{"p":"WPP5","s":"Simulated crossbeam","t":2.5,"v":-0.126},{"p":"WPP5","s":"Simulated crossbeam","t":3.0,"v":-0.126},{"p":"WPP5","s":"Simulated crossbeam","t":4.0,"v":-0.126},{"p":"WPP5","s":"Simulated crossbeam","t":4.4,"v":-0.126},{"p":"WPP5","s":"Simulated crossbeam","t":4.6,"v":-0.124},{"p":"WPP5","s":"Simulated crossbeam","t":5.0,"v":-0.124},{"p":"WPP5","s":"Simulated crossbeam","t":6.0,"v":-0.124},{"p":"WPP5","s":"Simulated crossbeam","t":7.0,"v":-0.124},
{"p":"WPP5","s":"Simulated no crossbeam","t":0,"v":0},{"p":"WPP5","s":"Simulated no crossbeam","t":0.68,"v":-0.288},{"p":"WPP5","s":"Simulated no crossbeam","t":0.85,"v":-0.33},{"p":"WPP5","s":"Simulated no crossbeam","t":1.0,"v":-0.357},{"p":"WPP5","s":"Simulated no crossbeam","t":1.34,"v":-0.4},{"p":"WPP5","s":"Simulated no crossbeam","t":1.65,"v":-0.419},{"p":"WPP5","s":"Simulated no crossbeam","t":2.0,"v":-0.428},{"p":"WPP5","s":"Simulated no crossbeam","t":2.45,"v":-0.435},{"p":"WPP5","s":"Simulated no crossbeam","t":3.0,"v":-0.438},{"p":"WPP5","s":"Simulated no crossbeam","t":3.5,"v":-0.437},{"p":"WPP5","s":"Simulated no crossbeam","t":4.0,"v":-0.435},{"p":"WPP5","s":"Simulated no crossbeam","t":5.0,"v":-0.428},{"p":"WPP5","s":"Simulated no crossbeam","t":6.0,"v":-0.425},{"p":"WPP5","s":"Simulated no crossbeam","t":7.0,"v":-0.424}
]},
"concat": [
{
 "width": 883, "height": 356,
 "title": {"text": "WPP1", "dx": -11},
 "data": {"name": "d"},
 "transform": [{"filter": "datum.p == 'WPP1'"}],
 "encoding": {
  "y": {"field": "v", "type": "quantitative", "scale": {"domain": [-0.6, 0], "nice": false, "zero": false},
        "axis": {"values": [-0.6,-0.5,-0.4,-0.3,-0.2,-0.1,0], "grid": true, "title": "Cupping Angle [°]", "labelPadding": 23, "titlePadding": 19, "labelExpr": "toString(datum.value)"}}
 },
 "layer": [
  {"mark": {"type": "line", "strokeWidth": 3, "strokeJoin": "round"},
   "encoding": {
    "x": {"field": "t", "type": "quantitative", "scale": {"domain": [0, 7], "nice": false, "zero": false},
          "axis": {"orient": "bottom", "values": [0,1,2,3,4,5,6,7], "labels": false, "grid": true, "title": "Time [Days]", "titlePadding": 12}},
    "color": {"field": "s", "type": "nominal", "scale": {"domain": ["no crossbeam","with crossbeam","Simulated crossbeam","Simulated no crossbeam"], "range": ["#4472C4","#ED7D31","#7030A0","#FFC000"]}, "legend": {"title": null}}
   }},
  {"mark": {"type": "point", "opacity": 0},
   "encoding": {
    "x": {"field": "t", "type": "quantitative", "axis": {"orient": "top", "values": [0,1,2,3,4,5,6,7], "grid": false, "title": null, "labelPadding": -21.5, "labelBaseline": "top", "labelFlush": false, "format": "d"}}
   }}
 ],
 "resolve": {"axis": {"x": "independent"}}
},
{
 "width": 881, "height": 327,
 "title": {"text": "WPP4", "dx": -7},
 "data": {"name": "d"},
 "transform": [{"filter": "datum.p == 'WPP4'"}],
 "encoding": {
  "y": {"field": "v", "type": "quantitative", "scale": {"domain": [-1.2, 0], "nice": false, "zero": false},
        "axis": {"values": [-1.2,-1,-0.8,-0.6,-0.4,-0.2,0], "grid": true, "title": "Cupping Angle [°]", "labelPadding": 23, "titlePadding": 11, "labelExpr": "toString(datum.value)"}}
 },
 "layer": [
  {"mark": {"type": "line", "strokeWidth": 3, "strokeJoin": "round"},
   "encoding": {
    "x": {"field": "t", "type": "quantitative", "scale": {"domain": [0, 7], "nice": false, "zero": false},
          "axis": {"orient": "bottom", "values": [0,1,2,3,4,5,6,7], "labels": false, "grid": true, "title": "Time [Days]", "titlePadding": 12}},
    "color": {"field": "s", "type": "nominal", "scale": {"domain": ["no crossbeam","with crossbeam","Simulated crossbeam","Simulated no crossbeam"], "range": ["#4472C4","#ED7D31","#7030A0","#FFC000"]}, "legend": {"title": null}}
   }},
  {"mark": {"type": "point", "opacity": 0},
   "encoding": {
    "x": {"field": "t", "type": "quantitative", "axis": {"orient": "top", "values": [0,1,2,3,4,5,6,7], "grid": false, "title": null, "labelPadding": -21, "labelBaseline": "top", "labelFlush": false, "format": "d"}}
   }}
 ],
 "resolve": {"axis": {"x": "independent"}}
},
{
 "width": 899, "height": 321,
 "title": {"text": "WPP5", "dx": -1},
 "data": {"name": "d"},
 "transform": [{"filter": "datum.p == 'WPP5'"}],
 "encoding": {
  "y": {"field": "v", "type": "quantitative", "scale": {"domain": [-0.5, 0.1], "nice": false, "zero": false},
        "axis": {"values": [-0.5,-0.4,-0.3,-0.2,-0.1,0,0.1], "grid": true, "title": "Cupping Angle [°]", "labelPadding": 23, "titlePadding": 11, "labelExpr": "toString(datum.value)"}}
 },
 "layer": [
  {"mark": {"type": "line", "strokeWidth": 3, "strokeJoin": "round"},
   "encoding": {
    "x": {"field": "t", "type": "quantitative", "scale": {"domain": [0, 7], "nice": false, "zero": false},
          "axis": {"orient": "bottom", "values": [0,1,2,3,4,5,6,7], "labels": false, "grid": true, "title": "Time [Days]", "titlePadding": 12}},
    "color": {"field": "s", "type": "nominal", "scale": {"domain": ["no crossbeam","with crossbeam","Simulated crossbeam","Simulated no crossbeam"], "range": ["#4472C4","#ED7D31","#7030A0","#FFC000"]}, "legend": {"title": null}}
   }},
  {"mark": {"type": "point", "opacity": 0},
   "encoding": {
    "x": {"field": "t", "type": "quantitative", "axis": {"orient": "top", "offset": -53.5, "values": [0,1,2,3,4,5,6,7], "grid": false, "title": null, "labelPadding": -21.5, "labelBaseline": "top", "labelFlush": false, "format": "d"}}
   }}
 ],
 "resolve": {"axis": {"x": "independent"}}
}
]
}
